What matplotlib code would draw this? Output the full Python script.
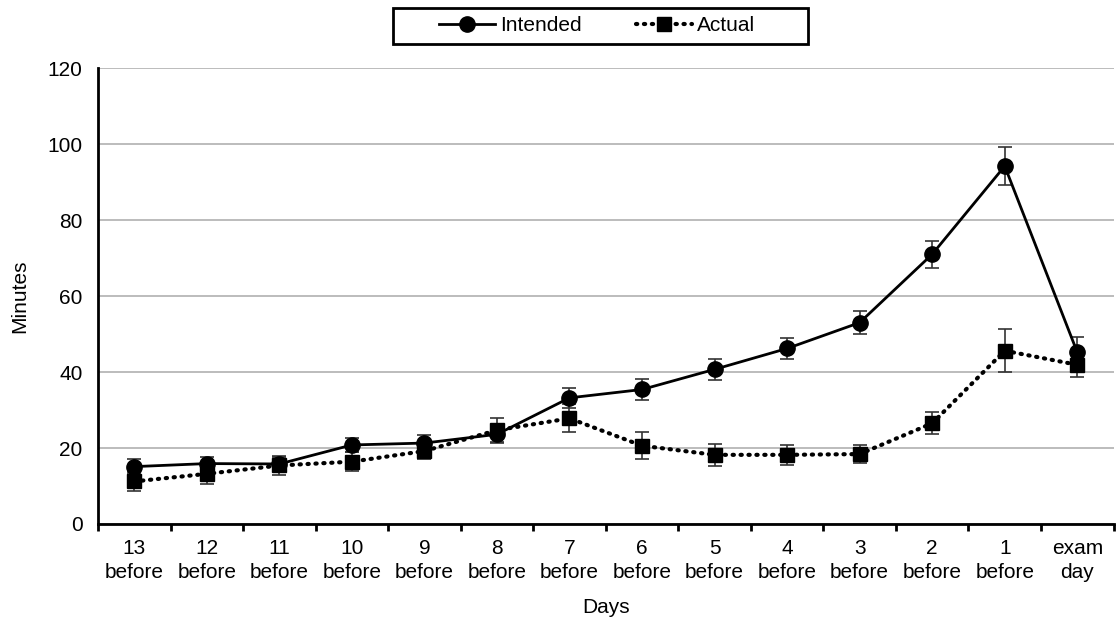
import matplotlib
matplotlib.use("Agg")
import matplotlib.pyplot as plt
from matplotlib.lines import Line2D
from matplotlib.patches import Rectangle
import numpy as np

categories = ["13\nbefore", "12\nbefore", "11\nbefore", "10\nbefore", "9\nbefore", "8\nbefore",
              "7\nbefore", "6\nbefore", "5\nbefore", "4\nbefore", "3\nbefore", "2\nbefore",
              "1\nbefore", "exam\nday"]
intended = [15.1, 15.9, 15.8, 20.8, 21.3, 23.6, 33.2, 35.4, 40.7, 46.2, 53.0, 71.0, 94.2, 45.2]
intended_err = [1.9, 1.8, 1.8, 1.8, 2.0, 2.2, 2.6, 2.7, 2.8, 2.7, 3.0, 3.6, 5.0, 3.9]
actual = [11.2, 13.2, 15.4, 16.4, 19.2, 24.7, 27.8, 20.6, 18.2, 18.2, 18.4, 26.5, 45.6, 41.9]
actual_err = [2.4, 2.6, 2.4, 2.5, 2.2, 3.2, 3.7, 3.6, 2.9, 2.6, 2.4, 2.9, 5.7, 3.2]
yticks = [0, 20, 40, 60, 80, 100, 120]

FS = 15
plt.rcParams['font.family'] = ['Liberation Sans', 'DejaVu Sans']
fig = plt.figure(figsize=(11.16, 6.19), dpi=100)
ax = fig.add_axes([0.0878, 0.1535, 0.910, 0.7365])

x = np.arange(len(categories))
dotted = (0, (0.3, 1.6))
ax.errorbar(x, intended, yerr=intended_err, color='black', lw=2, marker='o', ms=11,
            ecolor='#333333', elinewidth=1.2, capsize=5, capthick=1.2, zorder=3)
ax.errorbar(x, actual, yerr=actual_err, color='black', lw=3, linestyle=dotted,
            dash_capstyle='round', marker='s', ms=10.5,
            ecolor='#333333', elinewidth=1.2, capsize=5, capthick=1.2, zorder=3)

ax.set_xlim(-0.5, len(categories) - 0.5)
ax.set_ylim(0, 120)
ax.set_yticks(yticks)
ax.tick_params(axis='y', length=0, labelsize=FS, pad=11)
ax.set_xticks(x)
ax.set_xticklabels(categories, fontsize=FS, linespacing=1.3)
ax.tick_params(axis='x', which='major', length=0, pad=11)
ax.set_xticks(np.arange(len(categories) + 1) - 0.5, minor=True)
ax.tick_params(axis='x', which='minor', length=5, width=2, direction='out')

ax.grid(axis='y', color='#b0b0b0', lw=1.2)
ax.set_axisbelow(True)
for s in ['top', 'right']:
    ax.spines[s].set_visible(False)
for s in ['left', 'bottom']:
    ax.spines[s].set_linewidth(2)
    ax.spines[s].set_color('black')

ax.set_ylabel('Minutes', fontsize=FS, labelpad=13)
ax.set_xlabel('Days', fontsize=FS, labelpad=12)

handles = [
    Line2D([], [], color='black', lw=2, marker='o', ms=11),
    Line2D([], [], color='black', lw=3, linestyle=dotted, dash_capstyle='round', marker='s', ms=10.5),
]
leg = fig.legend(handles, ['Intended', 'Actual'], loc='center', bbox_to_anchor=(0.535, 0.958),
                 ncol=2, fontsize=FS, frameon=False, handlelength=2.7,
                 handletextpad=0.25, columnspacing=2.6)
fig.patches.append(Rectangle((0.352, 0.929), 0.372, 0.058, transform=fig.transFigure,
                             fill=False, edgecolor='black', lw=2))

fig.savefig('out.png', dpi=100)
